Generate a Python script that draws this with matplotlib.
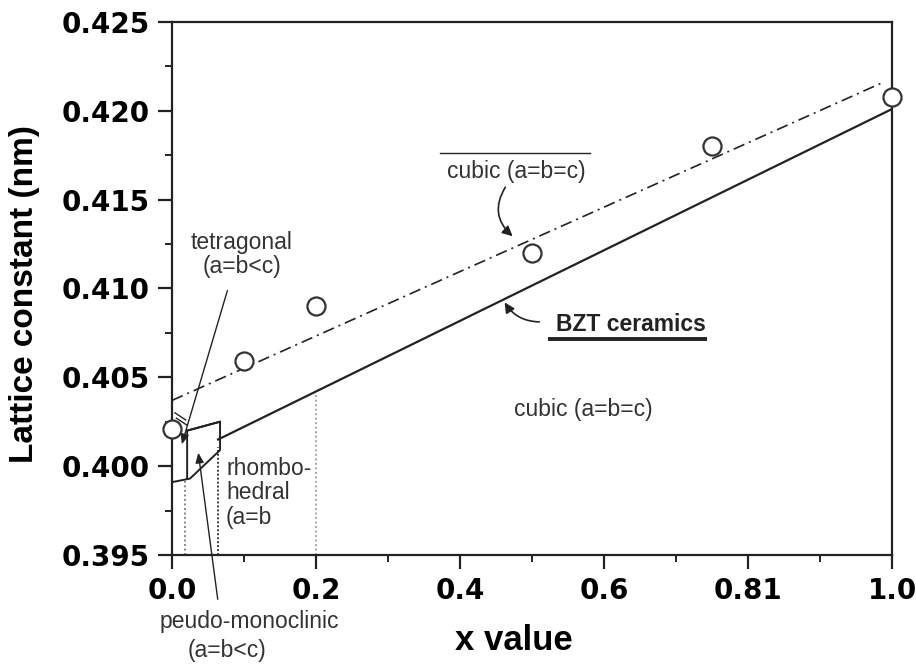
import matplotlib
matplotlib.use('Agg')
import matplotlib.pyplot as plt
from matplotlib.patches import FancyArrowPatch

plt.rcParams['font.family'] = ['Liberation Sans', 'DejaVu Sans']

# measured lattice constants
x_meas = [0.0, 0.1, 0.2, 0.5, 0.75, 1.0]
a_meas = [0.4021, 0.4059, 0.4090, 0.4120, 0.4180, 0.4208]

# fitted lines
x_cubic = [0.0, 0.9875]
a_cubic = [0.4037, 0.4216]
x_bzt = [0.064, 1.0]
a_bzt = [0.4015, 0.4201]

# phase boundary sketch near x = 0
box_x = [0.0, 0.025, 0.0667, 0.0667, 0.021, 0.021]
box_y = [0.3991, 0.3993, 0.4009, 0.4025, 0.4020, 0.3993]
dot_x = [0.018, 0.064, 0.2]
dot_top = [0.3992, 0.4011, 0.4041]

xticks = [0.0, 0.2, 0.4, 0.6, 0.8, 1.0]
xticklabels = ['0.0', '0.2', '0.4', '0.6', '0.81', '1.0']
yticks = [0.395, 0.400, 0.405, 0.410, 0.415, 0.420, 0.425]

ink = '#222222'
fig = plt.figure(figsize=(9.16, 6.64), dpi=100)
ax = fig.add_axes([0.1878, 0.1642, 0.786, 0.8027])

ax.plot(x_bzt, a_bzt, color=ink, lw=1.6)
ax.plot(x_cubic, a_cubic, color=ink, lw=1.2, linestyle=(0, (7, 3, 1.2, 3)))
ax.plot(x_meas, a_meas, 'o', ms=13, mfc='white', mec='#333333', mew=1.6, clip_on=False, zorder=5)

# sketch of low-x phase region
ax.plot(box_x, box_y, color=ink, lw=1.4)
ax.plot([0.021, 0.0667], [0.4020, 0.4025], color=ink, lw=1.4)
ax.plot([0.004, 0.019], [0.4030, 0.4026], color=ink, lw=1.0)
ax.plot([0.006, 0.021], [0.4027, 0.4023], color=ink, lw=1.0)
for xd, top, c, ls in zip(dot_x, dot_top, ['#777777', ink, '#999999'], [(0, (1, 1.5)), (0, (1, 1.2)), (0, (1, 1.5))]):
    ax.plot([xd, xd], [0.395, top], color=c, lw=1.3, linestyle=ls)

ax.set_xlim(0, 1.0)
ax.set_ylim(0.395, 0.425)
tickfont = dict(family='DejaVu Sans', weight='bold', size=20)
ax.set_xticks(xticks)
ax.set_xticklabels(xticklabels, fontdict=tickfont)
ax.set_yticks(yticks)
ax.set_yticklabels(['%.3f' % v for v in yticks], fontdict=tickfont)
ax.set_xticks([0.1, 0.3, 0.5, 0.7, 0.9], minor=True)
ax.set_yticks([0.3975, 0.4025, 0.4075, 0.4125, 0.4175, 0.4225], minor=True)

for s in ax.spines.values():
    s.set_linewidth(1.6)
    s.set_color(ink)
ax.tick_params(which='major', direction='out', length=10, width=1.6, color=ink, pad=6)
ax.tick_params(which='minor', direction='out', length=5, width=1.4, color=ink)

ax.set_xlabel('x value', fontsize=25, fontweight='bold')
ax.xaxis.set_label_coords(0.475, -0.13)
ax.set_ylabel('Lattice constant (nm)', fontsize=24, fontweight='bold')
ax.yaxis.set_label_coords(-0.183, 0.49)

tc = '#333333'
fs = 16.5
ax.text(0.097, 0.4119, 'tetragonal\n(a=b<c)', ha='center', va='center', fontsize=fs,
        color=tc, linespacing=1.05)
ax.text(0.478, 0.41656, 'cubic (a=b=c)', ha='center', va='center', fontsize=fs, color=tc)
ax.plot([0.372, 0.581], [0.41763, 0.41763], color=ink, lw=1.0)
ax.text(0.571, 0.40316, 'cubic (a=b=c)', ha='center', va='center', fontsize=fs, color=tc)
ax.text(0.6375, 0.40795, 'BZT ceramics', ha='center', va='center', fontsize=fs,
        fontweight='bold', color=ink)
ax.plot([0.522, 0.743], [0.40716, 0.40716], color=ink, lw=2.8, solid_capstyle='butt')
ax.text(0.075, 0.39849, 'rhombo-\nhedral\n(a=b', ha='left', va='center', fontsize=fs,
        color=tc, linespacing=1.1)
ax.text(0.107, 0.39123, 'peudo-monoclinic', ha='center', va='center', fontsize=fs, color=tc)
ax.text(0.076, 0.3896, '(a=b<c)', ha='center', va='center', fontsize=fs, color=tc)

# pointers
arw = dict(arrowstyle='-|>,head_length=0.6,head_width=0.25', color=ink, lw=1.0)
ax.annotate('', xy=(0.0125, 0.40108), xytext=(0.078, 0.41003), arrowprops=arw,
            annotation_clip=False)
ax.annotate('', xy=(0.036, 0.40091), xytext=(0.064, 0.39235), arrowprops=arw,
            annotation_clip=False)
ax.add_patch(FancyArrowPatch((0.465, 0.41583), (0.476, 0.41284), connectionstyle='arc3,rad=0.45',
                             arrowstyle='-|>,head_length=6,head_width=3', color=ink, lw=1.2))
ax.add_patch(FancyArrowPatch((0.514, 0.40812), (0.46, 0.40935), connectionstyle='arc3,rad=-0.3',
                             arrowstyle='-|>,head_length=6,head_width=3', color=ink, lw=1.2))

fig.savefig('out.png', dpi=100)
